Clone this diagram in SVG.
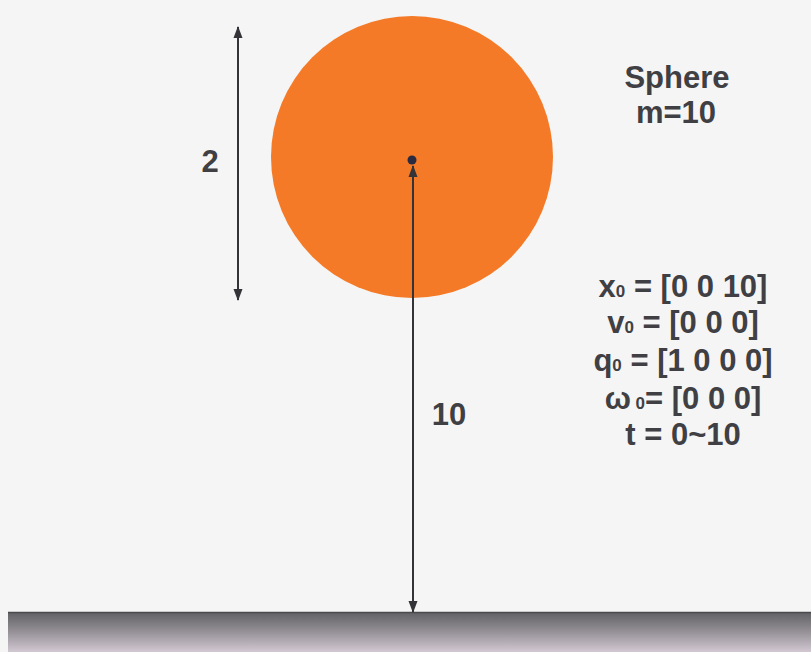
<svg xmlns="http://www.w3.org/2000/svg" width="811" height="652" viewBox="0 0 811 652">
<defs>
<linearGradient id="ground" x1="0" y1="0" x2="0" y2="1">
<stop offset="0" stop-color="#606064"/>
<stop offset="0.45" stop-color="#908c92"/>
<stop offset="1" stop-color="#d2c8d2"/>
</linearGradient>
<marker id="ah" viewBox="0 0 12 10" refX="11" refY="5" markerWidth="12" markerHeight="10" markerUnits="userSpaceOnUse" orient="auto-start-reverse">
<path d="M0,0.5 L12,5 L0,9.5 Z" fill="#333338"/>
</marker>
<style>
.t{font-family:"Liberation Sans",Arial,sans-serif;font-weight:bold;fill:#404044;font-size:31px;text-anchor:middle}
.s{font-size:17px}
.ln{stroke:#333338;stroke-width:2;fill:none}
</style>
</defs>
<rect width="811" height="652" fill="#f5f5f5"/>
<g id="ground-plane"><rect x="8" y="612" width="803" height="40" fill="url(#ground)"/><line x1="8" y1="612.5" x2="811" y2="612.5" stroke="#4a4a4e" stroke-width="1.5"/></g>
<g id="sphere"><circle cx="412" cy="157" r="141" fill="#f47a27"/></g>
<g id="connectors">
<line class="ln" x1="238" y1="27" x2="238" y2="300" marker-start="url(#ah)" marker-end="url(#ah)"/>
<line class="ln" x1="413" y1="166" x2="413" y2="612" marker-start="url(#ah)" marker-end="url(#ah)"/>
<circle cx="412" cy="160" r="4.5" fill="#2a2a40"/>
</g>
<g id="labels">
<text class="t" x="210" y="172">2</text>
<text class="t" x="449" y="425">10</text>
<text class="t" x="677" y="88">Sphere</text>
<text class="t" x="676" y="123">m=10</text>
<text class="t" x="683" y="297">x<tspan class="s">0</tspan> = [0 0 10]</text>
<text class="t" x="683" y="333">v<tspan class="s">0</tspan> = [0 0 0]</text>
<text class="t" x="683" y="371">q<tspan class="s">0</tspan> = [1 0 0 0]</text>
<text class="t" x="683" y="409">ω<tspan class="s"> 0</tspan>= [0 0 0]</text>
<text class="t" x="683" y="445">t = 0~10</text>
</g>
</svg>
